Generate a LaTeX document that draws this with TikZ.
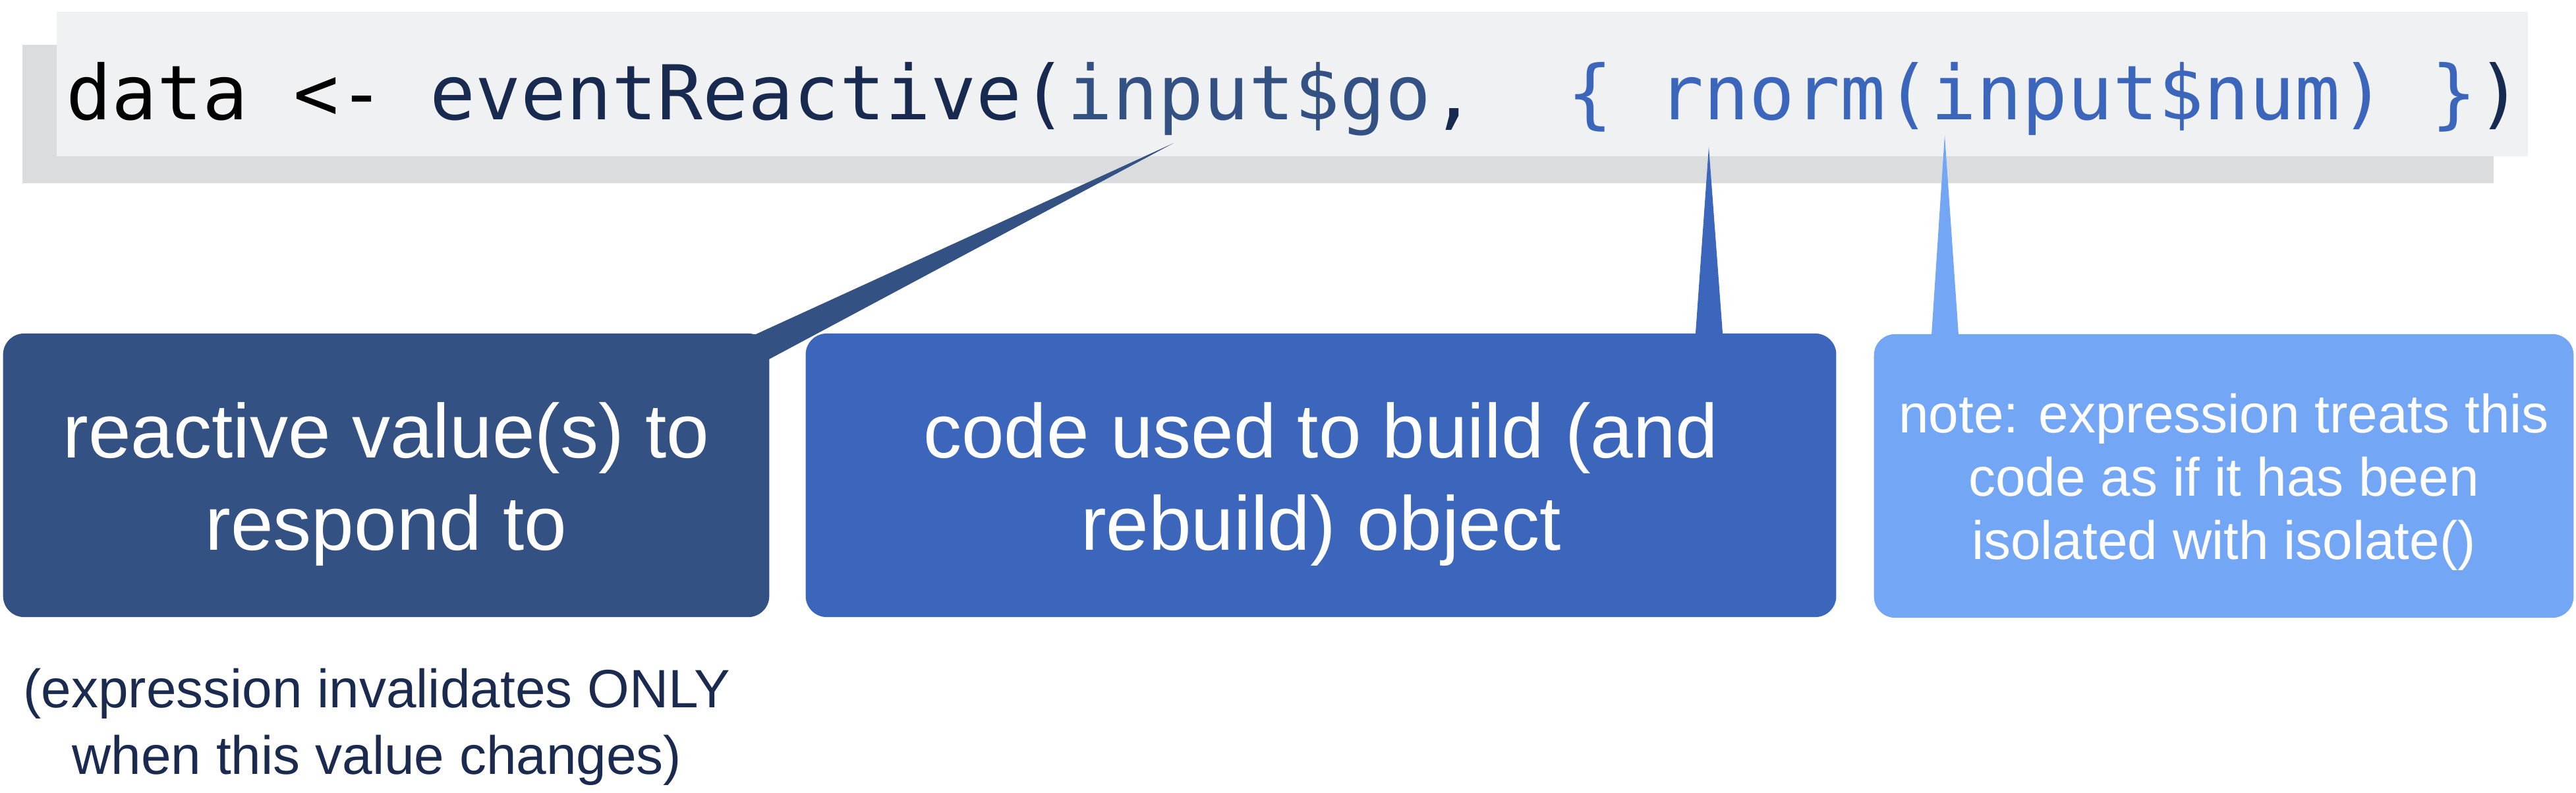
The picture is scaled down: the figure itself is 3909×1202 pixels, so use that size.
\documentclass[tikz,border=0pt]{standalone}
\usepackage{fontspec}
\setmainfont{Liberation Sans}
\newfontfamily\codefont{DejaVu Sans Mono}
\definecolor{cbarlight}{HTML}{EFF1F3}
\definecolor{cbarshadow}{HTML}{DBDCDE}
\definecolor{cnavy}{HTML}{192A50}
\definecolor{cone}{HTML}{345184}
\definecolor{ctwo}{HTML}{3B66BC}
\definecolor{cthree}{HTML}{73A6F5}
\definecolor{cnote}{HTML}{1B2A4F}
\begin{document}
\begin{tikzpicture}[x=0.01cm,y=-0.01cm,
  calloutbox/.style={rounded corners=0.32cm, inner sep=0pt, minimum height=4.30cm},
  bigtext/.style={inner sep=0pt, anchor=base, text=white, font=\fontsize{33pt}{40pt}\selectfont},
  smalltext/.style={inner sep=0pt, anchor=base, text=white, font=\fontsize{23.3pt}{28pt}\selectfont},
  belowtext/.style={inner sep=0pt, anchor=base, text=cnote, font=\fontsize{23.3pt}{28pt}\selectfont},
  codetext/.style={inner sep=0pt, anchor=base west, font=\codefont\fontsize{32.6pt}{40pt}\selectfont}]
\useasboundingbox (0,0) rectangle (3909,1202);
% code bar
\fill[cbarshadow] (34,68) rectangle (3784,278);
\fill[cbarlight] (86,18) rectangle (3836,237);
\node[codetext] (code) at (100,181) {\frenchspacing\textcolor{black}{data\ <-}\ \textcolor{cnavy}{eventReactive(}\textcolor{cone}{input\$go}\textcolor{cnavy}{,}\ \ \textcolor{ctwo}{\{\ rnorm(input\$num)\ \}}\textcolor{cnavy}{)}};
% pointer tips
\coordinate (t1) at (1781,217);
\coordinate (t2) at (2593,223);
\coordinate (t3) at (2951,205);
% boxes
\node[calloutbox, fill=cone, minimum width=11.62cm] (b1) at (586,721) {};
\node[calloutbox, fill=ctwo, minimum width=15.63cm] (b2) at (2004.5,721) {};
\node[calloutbox, fill=cthree, minimum width=10.61cm] (b3) at (3374.5,722) {};
% pointers
\fill[cone] (t1) -- (1147,507) -- (1100,507) -- (1100,560) -- (1167,545) -- cycle;
\fill[ctwo] (t2) -- (2573,505) -- (2573,530) -- (2614,530) -- (2614,505) -- cycle;
\fill[cthree] (t3) -- (2931,508) -- (2931,530) -- (2972,530) -- (2972,508) -- cycle;
% box texts
\node[bigtext] (b1l1) at (586,694) {reactive value(s) to};
\node[bigtext] (b1l2) at (586,834) {respond to};
\node[bigtext] (b2l1) at (2004.5,694) {code used to build (and};
\node[bigtext] (b2l2) at (2004.5,834) {rebuild) object};
\node[smalltext] (b3l1) at (3374.5,656) {note: expression treats this};
\node[smalltext] (b3l2) at (3374.5,752) {code as if it has been};
\node[smalltext] (b3l3) at (3374.5,848) {isolated with isolate()};
% note below
\node[belowtext] (n1) at (572,1073) {(expression invalidates ONLY};
\node[belowtext] (n2) at (572,1174) {when this value changes)};
\end{tikzpicture}
\end{document}
